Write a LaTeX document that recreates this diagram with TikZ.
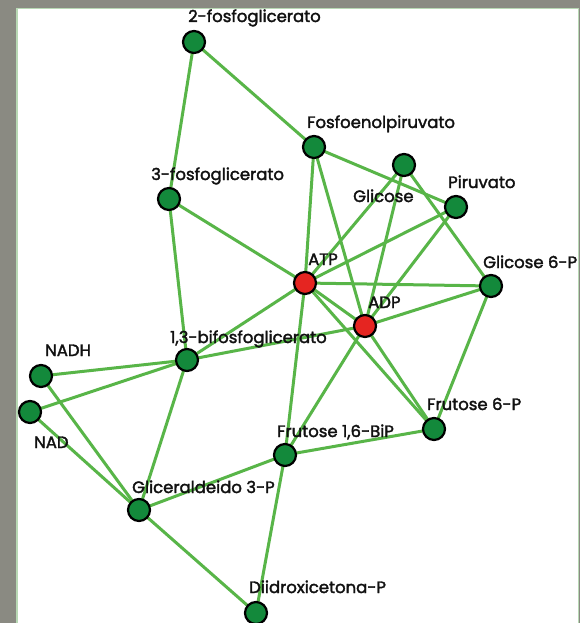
\documentclass[tikz,border=0pt]{standalone}
\usepackage{fontspec}
\setmainfont[FakeBold=2]{Poppins}
\definecolor{bggray}{HTML}{8A8A82}
\definecolor{panelline}{HTML}{B8D8B4}
\definecolor{edgegreen}{HTML}{58B548}
\definecolor{nodegreen}{HTML}{13893B}
\definecolor{nodered}{HTML}{E52521}
\definecolor{textblack}{HTML}{111111}
\begin{document}
\begin{tikzpicture}[x=1pt,y=-1pt,
  met/.style={circle,draw=black,line width=2.2pt,fill=nodegreen,minimum size=22pt,inner sep=0pt},
  cof/.style={met,fill=nodered},
  lab/.style={anchor=base west,inner sep=0pt,text=textblack,font=\fontsize{16.5}{17}\selectfont},
  edge/.style={draw=edgegreen,line width=3pt}]
\useasboundingbox (0,0) rectangle (580,623);
\fill[bggray] (0,0) rectangle (580,623);
\filldraw[fill=white,draw=panelline,line width=1.5pt] (17,8.5) rectangle (578.5,625);
% node positions
\coordinate (f2) at (194,42);
\coordinate (f3) at (169,199);
\coordinate (pep) at (314,147);
\coordinate (glc) at (404,165);
\coordinate (pir) at (456,207);
\coordinate (atp) at (305,283);
\coordinate (adp) at (365,326);
\coordinate (g6p) at (491,286);
\coordinate (bpg) at (187,360);
\coordinate (nadh) at (41,376);
\coordinate (nad) at (30,412);
\coordinate (gap) at (139,510);
\coordinate (f16) at (285,455);
\coordinate (f6p) at (434,429);
\coordinate (dhap) at (256,613);
% edges
\foreach \a/\b in {f2/f3,f2/pep,f3/atp,f3/bpg,pep/pir,pep/atp,pep/adp,glc/atp,glc/adp,glc/g6p,
  pir/atp,pir/adp,atp/g6p,adp/g6p,g6p/f6p,atp/f6p,adp/f6p,atp/adp,atp/f16,adp/f16,
  bpg/atp,bpg/adp,bpg/nadh,bpg/nad,bpg/gap,nadh/gap,nad/gap,gap/f16,gap/dhap,f16/dhap,f16/f6p}
  \draw[edge] (\a) -- (\b);
% nodes
\foreach \n in {f2,f3,pep,glc,pir,g6p,bpg,nadh,nad,gap,f16,f6p,dhap}
  \node[met] (n\n) at (\n) {};
\foreach \n in {atp,adp}
  \node[cof] (n\n) at (\n) {};
% labels
\node[lab] (lf2) at (188,22) {2-fosfoglicerato};
\node[lab] (lf3) at (151,180) {3-fosfoglicerato};
\node[lab] (lpep) at (307,128) {Fosfoenolpiruvato};
\node[lab] (lglc) at (353,202) {Glicose};
\node[lab] (lpir) at (448,188) {Piruvato};
\node[lab] (latp) at (308,265) {ATP};
\node[lab] (ladp) at (368,308) {ADP};
\node[lab] (lg6p) at (483,268) {Glicose 6-P};
\node[lab] (lbpg) at (170,343) {1,3-bifosfoglicerato};
\node[lab] (lnadh) at (45,356) {NADH};
\node[lab] (lnad) at (34,448) {NAD};
\node[lab] (lgap) at (132,493) {Gliceraldeido 3-P};
\node[lab] (lf16) at (277,437) {Frutose 1,6-BiP};
\node[lab] (lf6p) at (427,410) {Frutose 6-P};
\node[lab] (ldhap) at (249,593) {Diidroxicetona-P};
\end{tikzpicture}
\end{document}
